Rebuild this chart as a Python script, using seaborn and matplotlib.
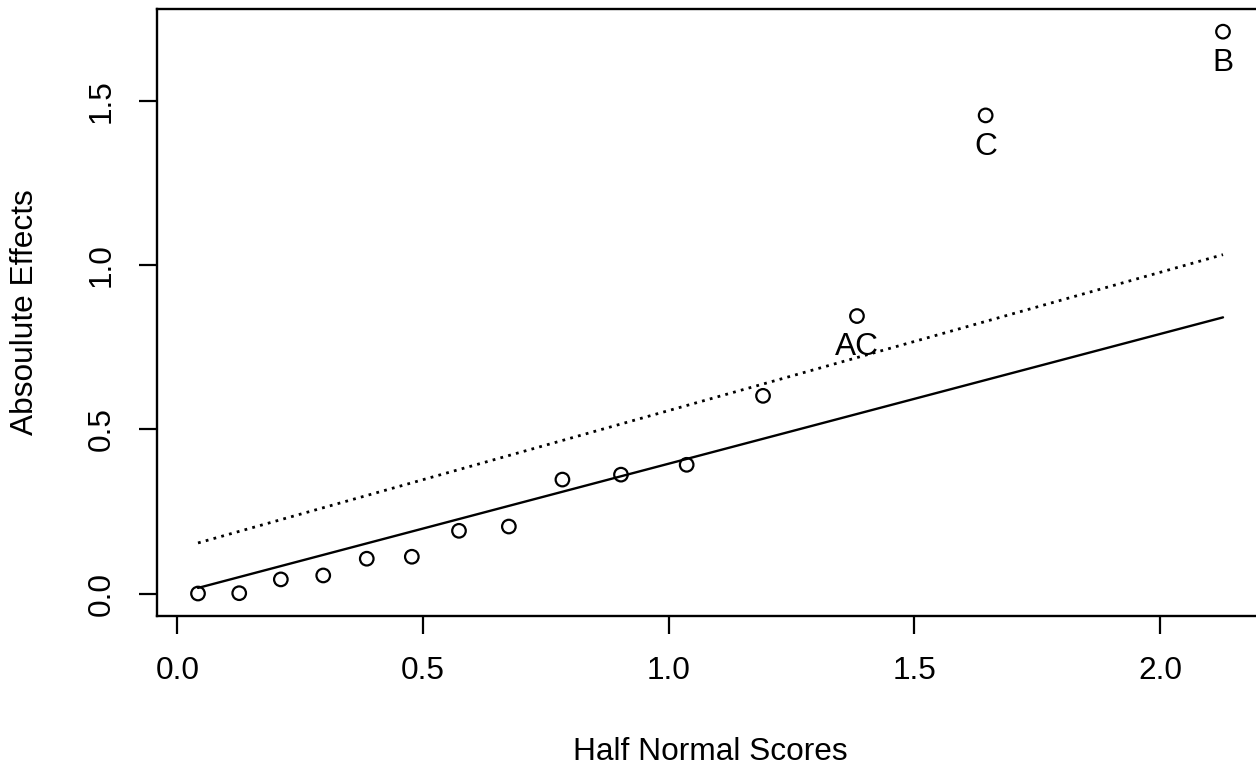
import matplotlib
matplotlib.use("Agg")
import matplotlib.pyplot as plt
import seaborn as sns
import pandas as pd

# Data
half_normal_scores = [0.0418, 0.1257, 0.2104, 0.2967, 0.3853, 0.4770, 0.5730, 0.6745,
                      0.7835, 0.9027, 1.0364, 1.1918, 1.3830, 1.6449, 2.1280]
abs_effects = [0.000, 0.001, 0.043, 0.055, 0.106, 0.112, 0.191, 0.204,
               0.347, 0.362, 0.392, 0.602, 0.845, 1.456, 1.711]
point_labels = ["", "", "", "", "", "", "", "", "", "", "", "", "AC", "C", "B"]

solid_line_x = [0.0418, 2.1280]
solid_line_y = [0.017, 0.841]
dotted_line_x = [0.0418, 2.1280]
dotted_line_y = [0.154, 1.032]

x_ticks = [0.0, 0.5, 1.0, 1.5, 2.0]
y_ticks = [0.0, 0.5, 1.0, 1.5]
x_title = "Half Normal Scores"
y_title = "Absoulute Effects"

sns.set_style("white")
plt.rcParams["font.family"] = ["Liberation Sans", "DejaVu Sans"]
plt.rcParams["text.color"] = "black"
plt.rcParams["axes.labelcolor"] = "black"
plt.rcParams["xtick.color"] = "black"
plt.rcParams["ytick.color"] = "black"

W, H = 1256, 772
fig = plt.figure(figsize=(W / 100, H / 100), dpi=100)
left, right, top, bottom = 157, 1264, 9.2, 616
ax = fig.add_axes([left / W, (H - bottom) / H, (right - left) / W, (bottom - top) / H])

df = pd.DataFrame({"x": half_normal_scores, "y": abs_effects, "lab": point_labels})
sns.scatterplot(data=df, x="x", y="y", ax=ax, marker="o", s=95,
                facecolor="none", edgecolor="black", linewidth=1.6, zorder=3)
sns.lineplot(x=solid_line_x, y=solid_line_y, ax=ax, color="black", lw=1.7,
             estimator=None, sort=False)
ln = sns.lineplot(x=dotted_line_x, y=dotted_line_y, ax=ax, color="black", lw=2.0,
                  estimator=None, sort=False)
ln.lines[-1].set_linestyle((0, (1, 1.9)))

fs = 22.8
for xv, yv, lab in zip(half_normal_scores, abs_effects, point_labels):
    if lab:
        ax.annotate(lab, (xv, yv), xytext=(0, -22.5), textcoords="offset points",
                    ha="center", va="center", fontsize=fs, color="black")

xmin, xmax = min(half_normal_scores), max(half_normal_scores)
ymin, ymax = min(abs_effects), max(abs_effects)
ax.set_xlim(xmin - 0.04 * (xmax - xmin), xmax + 0.04 * (xmax - xmin))
ax.set_ylim(ymin - 0.04 * (ymax - ymin), ymax + 0.04 * (ymax - ymin))
ax.set_xticks(x_ticks)
ax.set_yticks(y_ticks)
ax.set_xticklabels([f"{t:.1f}" for t in x_ticks], fontsize=fs)
ax.set_yticklabels([f"{t:.1f}" for t in y_ticks], fontsize=fs, rotation=90, va="center")

for s in ax.spines.values():
    s.set_color("black")
    s.set_linewidth(1.7)

ax.tick_params(axis="both", direction="out", length=13, width=1.6, color="black",
               labelcolor="black", bottom=True, left=True)
ax.tick_params(axis="x", pad=16)
ax.tick_params(axis="y", pad=16)

ax.set_xlabel(x_title, fontsize=fs, color="black")
ax.set_ylabel(y_title, fontsize=fs, color="black")
ax.xaxis.set_label_coords((710.5 - left) / (right - left), -(752 - bottom) / (bottom - top))
ax.xaxis.label.set_va("center")
ax.yaxis.set_label_coords((25 - left) / (right - left), 0.5)
ax.yaxis.label.set_va("center")

fig.savefig("out.png", dpi=100)
